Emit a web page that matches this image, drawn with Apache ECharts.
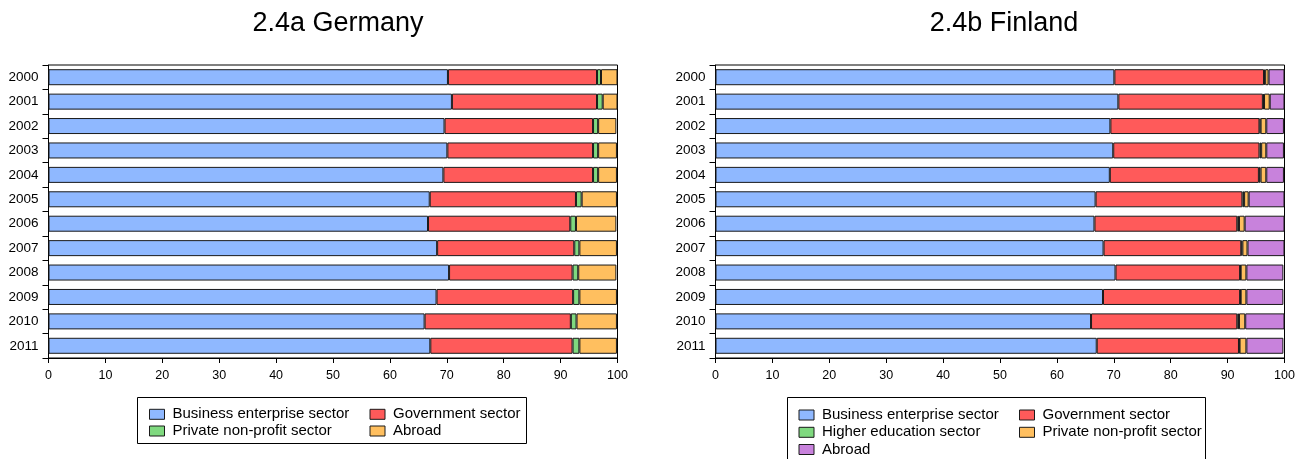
<!DOCTYPE html>
<html>
<head>
<meta charset="utf-8">
<script src="https://cdn.jsdelivr.net/npm/echarts@6/dist/echarts.min.js"></script>
<style>
html,body{margin:0;padding:0;background:#fff;}
#wrap{width:1302px;height:459px;position:relative;overflow:hidden;}
#c1{position:absolute;left:0;top:0;width:651px;height:459px;}
#c2{position:absolute;left:651px;top:0;width:651px;height:459px;}
</style>
</head>
<body>
<div id="wrap"><div id="c1"></div><div id="c2"></div></div>
<script>
const years = ['2000','2001','2002','2003','2004','2005','2006','2007','2008','2009','2010','2011'];
const xTicks = [0,10,20,30,40,50,60,70,80,90,100];

// 2.4a Germany
const deBusiness   = [70.2,70.9,69.6,70.1,69.4,67.0,66.7,68.3,70.4,68.2,66.1,67.1];
const deGovernment = [26.2,25.5,26.1,25.6,26.3,25.7,25.0,24.1,21.7,24.0,25.7,25.0];
const dePrivate    = [0.7,1.0,0.9,0.9,0.9,1.0,1.0,0.9,1.0,1.1,1.0,1.2];
const deAbroad     = [2.9,2.6,3.2,3.3,3.3,6.2,7.1,6.6,6.7,6.6,7.1,6.6];

// 2.4b Finland
const fiBusiness   = [70.1,70.8,69.4,69.9,69.3,66.8,66.6,68.2,70.3,68.1,66.0,67.0];
const fiGovernment = [26.3,25.4,26.2,25.7,26.2,25.8,25.1,24.2,21.9,24.1,25.7,25.0];
const fiHigherEdu  = [0.2,0.2,0.2,0.3,0.3,0.3,0.3,0.2,0.1,0.1,0.3,0.1];
const fiPrivate    = [0.6,1.0,1.0,0.9,1.0,0.8,1.0,0.9,1.0,1.0,1.1,1.2];
const fiAbroad     = [2.8,2.6,3.1,3.1,3.1,6.3,7.0,6.5,6.5,6.5,6.9,6.5];

const C = {blue:'#8fb8ff', red:'#ff5a5a', green:'#7fd97f', orange:'#ffbf5f', purple:'#c882dc'};
const FONT = '"Liberation Sans", Arial, sans-serif';

function bar(name, data, color){
  return {name, type:'bar', stack:'s', data, barWidth:16,
    itemStyle:{color, borderColor:'#1a1a1a', borderWidth:1},
    emphasis:{disabled:true}, animation:false};
}

function legendItem(name, color, left, cy){
  return {orient:'horizontal', left, top:cy - 7.5, padding:0,
    itemWidth:15, itemHeight:10, icon:'rect', selectedMode:false,
    textStyle:{fontSize:15, color:'#000', fontFamily:FONT, lineHeight:15, padding:[0,0,0,3]},
    data:[{name, itemStyle:{color, borderColor:'#1a1a1a', borderWidth:1}}]};
}

function makeOption(title, titleX, gridLeft, series, legends, box){
  return {
    animation:false,
    textStyle:{fontFamily:FONT},
    title:{text:title, left:titleX, top:5, textAlign:'center',
      textStyle:{fontFamily:FONT, fontSize:27, fontWeight:'normal', color:'#000'}},
    grid:{left:gridLeft, top:65, width:569, height:293, show:true, borderColor:'#000', borderWidth:1, backgroundColor:'transparent'},
    xAxis:{type:'value', min:0, max:100, interval:10,
      axisLine:{show:true, lineStyle:{color:'#000'}},
      axisTick:{show:true, length:5, lineStyle:{color:'#000'}},
      splitLine:{show:false},
      axisLabel:{color:'#000', fontSize:12.5, margin:11, fontFamily:FONT,
        formatter:v => xTicks.indexOf(v) >= 0 ? String(v) : ''}},
    yAxis:{type:'category', data:years, inverse:true,
      axisLine:{show:true, lineStyle:{color:'#000'}},
      axisTick:{show:true, length:6, lineStyle:{color:'#000'}},
      axisLabel:{color:'#000', fontSize:13.5, margin:10, fontFamily:FONT}},
    legend: legends,
    graphic:[{type:'rect', shape:{x:box.x, y:box.y, width:box.w, height:box.h},
      style:{fill:'none', stroke:'#000', lineWidth:1}, silent:true}],
    series
  };
}

const c1 = echarts.init(document.getElementById('c1'), null, {renderer:'canvas'});
c1.setOption(makeOption('2.4a Germany', 333, 48.5, [
  bar('Business enterprise sector', deBusiness, C.blue),
  bar('Government sector', deGovernment, C.red),
  bar('Private non-profit sector', dePrivate, C.green),
  bar('Abroad', deAbroad, C.orange)
], [
  legendItem('Business enterprise sector', C.blue, 149, 414.3),
  legendItem('Private non-profit sector', C.green, 149, 431),
  legendItem('Government sector', C.red, 369.5, 414.3),
  legendItem('Abroad', C.orange, 369.5, 431)
], {x:137.5, y:397.5, w:389, h:46}));

const c2 = echarts.init(document.getElementById('c2'), null, {renderer:'canvas'});
c2.setOption(makeOption('2.4b Finland', 348, 64.5, [
  bar('Business enterprise sector', fiBusiness, C.blue),
  bar('Government sector', fiGovernment, C.red),
  bar('Higher education sector', fiHigherEdu, C.green),
  bar('Private non-profit sector', fiPrivate, C.orange),
  bar('Abroad', fiAbroad, C.purple)
], [
  legendItem('Business enterprise sector', C.blue, 147.5, 415),
  legendItem('Higher education sector', C.green, 147.5, 432.3),
  legendItem('Abroad', C.purple, 147.5, 449.5),
  legendItem('Government sector', C.red, 368, 415),
  legendItem('Private non-profit sector', C.orange, 368, 432.3)
], {x:136.5, y:397.5, w:418, h:70}));
</script>
</body>
</html>
